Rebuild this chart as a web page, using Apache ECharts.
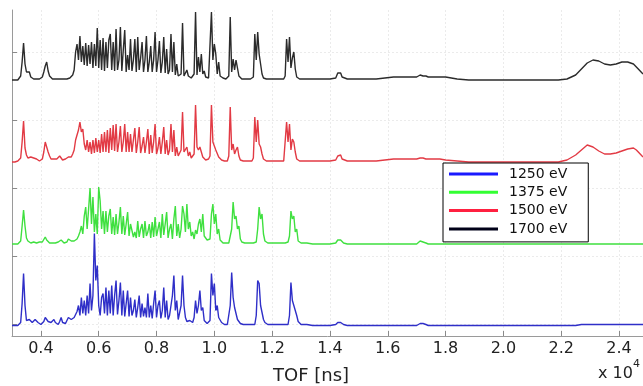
<!DOCTYPE html>
<html><head><meta charset="utf-8">
<script src="https://cdn.jsdelivr.net/npm/echarts@6/dist/echarts.min.js"></script>
<style>html,body{margin:0;padding:0;background:#fff}#c{width:643px;height:386px}</style>
</head><body><div id="c"></div>
<script>
// TOF positions (x 10^4 ns)
const tof = [
0.3,0.305,0.31,0.315,0.32,0.325,0.33,0.335,0.34,0.345,
0.35,0.355,0.36,0.365,0.37,0.375,0.38,0.385,0.39,0.395,
0.4,0.405,0.41,0.415,0.42,0.425,0.43,0.435,0.44,0.445,
0.45,0.455,0.46,0.465,0.47,0.475,0.48,0.485,0.49,0.495,
0.5,0.505,0.51,0.515,0.52,0.525,0.53,0.535,0.54,0.545,
0.55,0.555,0.56,0.565,0.57,0.575,0.58,0.585,0.59,0.595,
0.6,0.605,0.61,0.615,0.62,0.625,0.63,0.635,0.64,0.645,
0.65,0.655,0.66,0.665,0.67,0.675,0.68,0.685,0.69,0.695,
0.7,0.705,0.71,0.715,0.72,0.725,0.73,0.735,0.74,0.745,
0.75,0.755,0.76,0.765,0.77,0.775,0.78,0.785,0.79,0.795,
0.8,0.805,0.81,0.815,0.82,0.825,0.83,0.835,0.84,0.845,
0.85,0.855,0.86,0.865,0.87,0.875,0.88,0.885,0.89,0.895,
0.9,0.905,0.91,0.915,0.92,0.925,0.93,0.935,0.94,0.945,
0.95,0.955,0.96,0.965,0.97,0.975,0.98,0.985,0.99,0.995,
1.0,1.005,1.01,1.015,1.02,1.025,1.03,1.035,1.04,1.045,
1.05,1.055,1.06,1.065,1.07,1.075,1.08,1.085,1.09,1.095,
1.1,1.105,1.11,1.115,1.12,1.125,1.13,1.135,1.14,1.145,
1.15,1.155,1.16,1.165,1.17,1.175,1.18,1.185,1.19,1.195,
1.2,1.205,1.21,1.215,1.22,1.225,1.23,1.235,1.24,1.245,
1.25,1.255,1.26,1.265,1.27,1.275,1.28,1.285,1.29,1.295,
1.3,1.305,1.31,1.315,1.32,
1.34,1.36,1.38,1.4,1.42,1.427,1.432,1.437,1.442,1.447,
1.46,1.48,1.5,1.53,1.56,1.59,1.62,1.65,1.68,1.7,
1.712,1.717,1.722,1.727,1.732,1.74,1.76,1.78,1.8,1.84,
1.88,1.92,1.96,2.0,2.05,2.1,2.15,2.19,2.22,2.25,
2.27,2.29,2.31,2.33,2.35,2.37,2.39,2.41,2.43,2.45,
2.46,2.47,2.483
];

// Intensities (arbitrary units, above each trace's own baseline)
const i1700 = [
0,0,0,0,0, 1,4,18,37,16, 8,6,8,3,1, 1,1,1,1,1,
1,3,8,14,18, 9,4,2,1,1, 1,1,1,1,1, 1,1,1,1,2,
2,3,5,10,28, 36,20,44,18,34, 15,37,14,35,16, 38,12,36,14,52,
12,40,10,42,9, 38,12,40,46,10, 38,9,51,10,20, 53,9,30,50,8,
25,10,41,9,20, 41,8,43,10,22, 38,8,20,44,8, 18,34,8,20,48,
8,20,39,7,18, 43,7,31,6,10, 46,8,38,5,16, 4,3,6,57,4,
3,10,4,3,2, 3,6,68,5,23, 8,26,6,9,3, 2,2,4,68,20,
36,26,6,18,4, 2,2,1,1,2, 4,63,8,21,10, 20,18,4,2,1,
1,1,1,1,1, 1,1,3,46,20, 48,26,16,6,2, 1,1,1,1,1,
1,1,1,1,1, 1,1,1,1,4, 41,18,43,12,22, 28,11,3,1,1,
1,1,1,1,1,
1,1,1,1,2, 7,5,7,3,2, 1,1,1,1,1, 2,3,3,3,3,
5,6,4,6,4, 3,3,3,3,1, 0,0,0,0,0, 0,0,0,1,5,
11,17,20,19,16, 15,16,18,18,16, 13,10,6
];
const i1500 = [
0,0,0,0,1, 1,4,20,41,14, 7,4,3,5,7, 4,2,3,2,1,
2,3,10,20,21, 10,6,3,4,3, 2,3,4,6,5, 2,2,3,3,5,
6,5,8,12,22, 27,32,40,30,33, 18,12,22,10,20, 8,22,9,24,10,
22,9,28,10,30, 10,32,9,34,12, 37,11,38,10,20, 36,10,20,38,10,
30,10,28,10,22, 34,9,20,35,9, 16,25,9,20,33, 8,27,9,20,38,
8,14,25,8,20, 35,8,22,7,12, 38,10,32,6,15, 6,4,12,50,10,
8,15,6,10,4, 4,8,57,15,12, 15,10,5,3,2, 2,3,6,57,20,
22,12,14,5,3, 2,1,1,1,1, 6,55,12,18,8, 12,15,6,2,1,
1,1,1,1,1, 1,1,4,45,20, 42,18,15,8,3, 1,1,1,1,1,
1,1,1,1,1, 1,1,1,1,3, 40,20,38,12,23, 20,10,3,1,1,
1,1,1,1,1,
1,1,1,1,2, 6,4,7,3,1, 1,1,1,1,1, 2,3,3,3,3,
4,6,4,5,3, 3,3,3,2,1, 0,0,0,0,0, 0,0,0,2,7,
12,17,15,11,8, 8,9,11,13,14, 12,9,5
];
const i1375 = [
0,0,0,0,0, 1,3,18,34,18, 6,3,2,1,1, 2,1,1,1,2,
1,2,4,7,4, 2,1,1,1,1, 1,1,2,4,4, 2,1,1,2,5,
6,3,2,3,4, 5,8,12,18,10, 28,37,15,35,56, 20,47,12,30,10,
57,43,15,33,10, 33,12,28,35,10, 27,9,30,10,22, 37,10,28,9,20,
32,8,20,22,7, 12,6,23,7,15, 20,6,23,8,12, 20,6,22,7,27,
8,15,22,6,30, 9,20,32,6,15, 20,5,25,38,8, 20,6,15,38,30,
12,40,15,22,8, 12,5,14,10,20, 25,12,30,8,10, 4,2,5,30,40,
20,30,10,15,4, 2,1,1,1,1, 1,2,15,42,25, 28,15,18,5,2,
1,1,1,1,1, 1,1,1,1,2, 15,37,25,30,10, 3,1,1,1,1,
1,1,1,1,1, 1,1,1,1,1, 1,2,8,33,25, 28,12,15,3,1,
1,1,1,1,1,
0,0,0,0,1, 4,3,4,2,1, 0,0,0,0,0, 0,0,0,0,0,
3,3,2,3,1, 0,0,0,0,0, 0,0,0,0,0, 0,0,0,0,0,
0,0,0,0,0, 0,0,0,0,0, 0,0,0
];
const i1250 = [
0,0,0,0,0, 1,3,22,52,20, 5,3,6,8,3, 2,6,7,3,2,
1,2,4,8,9, 4,2,3,4,6, 3,2,1,4,8, 3,1,2,4,8,
10,6,5,8,10, 14,20,10,28,12, 25,10,30,12,42, 15,30,92,45,60,
20,10,28,32,12, 38,10,35,12,40, 10,30,45,11,25, 43,10,35,9,22,
35,9,28,10,15, 26,8,18,30,8, 22,9,18,8,32, 8,20,7,22,35,
8,20,25,7,15, 38,8,25,6,10, 8,30,50,15,25, 6,8,20,50,20,
8,4,3,5,4, 3,8,25,12,20, 35,15,18,5,3, 2,2,5,52,30,
42,15,20,8,6, 3,2,1,1,1, 1,20,53,28,18, 20,6,4,2,1,
1,1,1,1,1, 1,1,1,1,10, 45,42,20,18,6, 3,1,1,1,1,
1,1,1,1,1, 1,1,1,1,1, 1,1,10,43,25, 20,15,10,4,2,
1,1,1,1,1,
0,0,0,0,1, 3,2,3,1,1, 0,0,0,0,0, 0,0,0,0,0,
2,3,2,2,1, 0,0,0,0,0, 0,0,0,0,0, 0,0,0,0,0,
1,1,1,1,1, 1,1,1,1,1, 1,1,1
];

const names = ['1250 eV', '1375 eV', '1500 eV', '1700 eV'];
const offsets = [10.5, 92, 174, 256];
const colors = ['#2f2fc8', '#3fe03f', '#e23a44', '#2b2b2b'];
const legendColors = ['#1a1aff', '#33ff33', '#ff2040', '#000018'];
const xTicks = [0.4, 0.6, 0.8, 1.0, 1.2, 1.4, 1.6, 1.8, 2.0, 2.2, 2.4];
const yTicks = [12, 80, 148, 216, 284];

const values = [i1250, i1375, i1500, i1700];
const order = [3, 2, 1, 0];
const series = order.map(k => ({
  name: names[k], type: 'line', showSymbol: false, symbol: 'none',
  data: tof.map((x, i) => [x, values[k][i] + offsets[k]]),
  lineStyle: { color: colors[k], width: 1.4 },
  itemStyle: { color: legendColors[k] },
  clip: true, animation: false, z: 2 + (3 - k)
}));

const chart = echarts.init(document.getElementById('c'), null, { renderer: 'canvas' });
chart.setOption({
  animation: false,
  backgroundColor: '#fff',
  grid: { left: 12, right: 0, top: 10, bottom: 50, containLabel: false },
  xAxis: {
    type: 'value', min: 0.3, max: 2.483,
    axisLine: { show: true, onZero: false, lineStyle: { color: '#9a9a9a', width: 1 } },
    axisTick: { show: true, inside: true, length: 5, customValues: xTicks, lineStyle: { color: '#8a8a8a' } },
    axisLabel: { customValues: xTicks, margin: 5, color: '#222', fontFamily: 'DejaVu Sans', fontSize: 16,
      formatter: v => v.toFixed(1) },
    splitLine: { show: true, lineStyle: { color: '#ebebeb', type: [2, 2], width: 1 } }
  },
  yAxis: {
    type: 'value', min: 0, max: 326,
    axisLine: { show: true, lineStyle: { color: '#9a9a9a', width: 1 } },
    axisTick: { show: true, inside: true, length: 5, customValues: yTicks, lineStyle: { color: '#8a8a8a' } },
    axisLabel: { show: false },
    splitLine: { show: true, lineStyle: { color: '#ebebeb', type: [2, 2], width: 1 } }
  },
  legend: {
    orient: 'vertical', left: 443, top: 163,
    data: names,
    icon: 'rect', itemWidth: 49, itemHeight: 3, itemGap: 0.3,
    padding: [2, 21, 4, 6],
    borderColor: '#000', borderWidth: 1, backgroundColor: '#fff',
    textStyle: { fontFamily: 'DejaVu Sans', fontSize: 14, color: '#111', lineHeight: 18, padding: [0, 0, 0, 6] },
    selectedMode: false, z: 20
  },
  graphic: [
    { type: 'text', x: 311, y: 376, z: 30,
      style: { text: 'TOF [ns]', font: '18px "DejaVu Sans"', fill: '#222', textAlign: 'center', textVerticalAlign: 'middle', align: 'center', verticalAlign: 'middle' } },
    { type: 'text', x: 598, y: 374, z: 30,
      style: { text: 'x 10', font: '16px "DejaVu Sans"', fill: '#222', textAlign: 'left', textVerticalAlign: 'middle', align: 'left', verticalAlign: 'middle' } },
    { type: 'text', x: 633, y: 364, z: 30,
      style: { text: '4', font: '11px "DejaVu Sans"', fill: '#222', textAlign: 'left', textVerticalAlign: 'middle', align: 'left', verticalAlign: 'middle' } }
  ],
  series: series
});
</script>
</body></html>
